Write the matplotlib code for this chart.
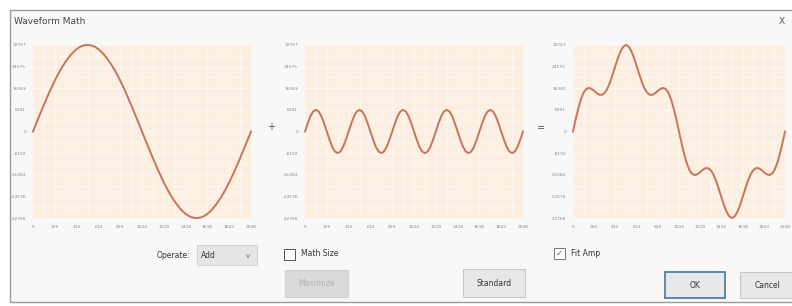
import matplotlib
matplotlib.use("Agg")
import matplotlib.pyplot as plt
from matplotlib.patches import Rectangle
from matplotlib.ticker import AutoMinorLocator

# values (81 samples each)
sample_pos = [i for i in range(81)]

wave_a = [0, 2600, 5100, 7600, 10100, 12500, 14900, 17100, 19300, 21300,
          23200, 24900, 26500, 27900, 29200, 30300, 31200, 31900, 32400, 32700,
          32767, 32700, 32400, 31900, 31200, 30300, 29200, 27900, 26500, 24900,
          23200, 21300, 19300, 17100, 14900, 12500, 10100, 7600, 5100, 2600,
          0, -2600, -5100, -7600, -10100, -12500, -14900, -17100, -19300, -21300,
          -23200, -24900, -26500, -27900, -29200, -30300, -31200, -31900, -32400, -32700,
          -32767, -32700, -32400, -31900, -31200, -30300, -29200, -27900, -26500, -24900,
          -23200, -21300, -19300, -17100, -14900, -12500, -10100, -7600, -5100, -2600,
          0]

wave_b = [0, 3100, 5800, 7600, 8191, 7600, 5800, 3100, 0, -3100, -5800, -7600, -8191, -7600, -5800, -3100,
          0, 3100, 5800, 7600, 8191, 7600, 5800, 3100, 0, -3100, -5800, -7600, -8191, -7600, -5800, -3100,
          0, 3100, 5800, 7600, 8191, 7600, 5800, 3100, 0, -3100, -5800, -7600, -8191, -7600, -5800, -3100,
          0, 3100, 5800, 7600, 8191, 7600, 5800, 3100, 0, -3100, -5800, -7600, -8191, -7600, -5800, -3100,
          0, 3100, 5800, 7600, 8191, 7600, 5800, 3100, 0, -3100, -5800, -7600, -8191, -7600, -5800, -3100,
          0]

wave_sum = [0, 4600, 8700, 12200, 14700, 16100, 16500, 16200, 15400, 14500,
            13900, 13900, 14700, 16300, 18700, 21700, 24900, 28000, 30500, 32200,
            32767, 32200, 30500, 28000, 24900, 21700, 18700, 16300, 14700, 13900,
            13900, 14500, 15400, 16200, 16500, 16100, 14700, 12200, 8700, 4600,
            0, -4600, -8700, -12200, -14700, -16100, -16500, -16200, -15400, -14500,
            -13900, -13900, -14700, -16300, -18700, -21700, -24900, -28000, -30500, -32200,
            -32767, -32200, -30500, -28000, -24900, -21700, -18700, -16300, -14700, -13900,
            -13900, -14500, -15400, -16200, -16500, -16100, -14700, -12200, -8700, -4600,
            0]

y_ticks = [32767, 24575, 16383, 8191, 0, -8192, -16384, -24576, -32768]
y_labels = ["32767", "24575", "16383", "8191", "0", "-8192", "-16384", "-24576", "-32768"]
x_ticks = [0, 8, 16, 24, 32, 40, 48, 56, 64, 72, 80]
x_labels = ["0", "205", "410", "614", "819", "1024", "1229", "1434", "1638", "1843", "2048"]

W, H = 792, 306
fig = plt.figure(figsize=(W / 100, H / 100), dpi=100)
fig.patch.set_facecolor("#ffffff")


def px(x, y):
    return x / W, 1 - y / H


# dialog frame (behind everything)
fig.patches.append(Rectangle(px(10, 302), 800 / W, 292 / H, transform=fig.transFigure,
                             facecolor="#f8f8f9", edgecolor="#9a9a9a", lw=1.0, zorder=-10))
fig.text(*px(14, 22), "Waveform Math", fontsize=6.5, color="#444444", va="center")
fig.text(*px(782, 22), "X", fontsize=6.5, color="#555555", va="center", ha="center")

line_col = "#c9745a"
bg_col = "#fdeee2"

panels = [(33, 218, wave_a), (305, 218, wave_b), (573, 212, wave_sum)]
for left, width, vals in panels:
    x0, y0 = px(left, 218)
    ax = fig.add_axes([x0, y0, width / W, 173 / H])
    ax.set_zorder(1)
    ax.set_facecolor(bg_col)
    ax.plot(sample_pos, vals, color=line_col, lw=1.4, clip_on=False, zorder=3)
    ax.set_xlim(0, 80)
    ax.set_ylim(-32768, 32767)
    ax.set_xticks(x_ticks)
    ax.set_xticklabels(x_labels)
    ax.set_yticks(y_ticks)
    ax.set_yticklabels(y_labels)
    ax.xaxis.set_minor_locator(AutoMinorLocator(2))
    ax.yaxis.set_minor_locator(AutoMinorLocator(2))
    ax.grid(True, which="both", color="#ffffff", lw=0.5, alpha=0.6)
    ax.set_axisbelow(True)
    ax.tick_params(which="both", length=0, labelsize=3.2, labelcolor="#888888", pad=5)
    for s in ax.spines.values():
        s.set_visible(False)

fig.text(*px(271, 127), "+", fontsize=7, color="#555555", ha="center", va="center")
fig.text(*px(541, 128), "=", fontsize=7, color="#555555", ha="center", va="center")


def button(x, y, w, h, label, face="#e8e8e9", edge="#c8c8c8", tcol="#333333", lw=0.8):
    fig.patches.append(Rectangle(px(x, y + h), w / W, h / H, transform=fig.transFigure,
                                 facecolor=face, edgecolor=edge, lw=lw, zorder=2))
    fig.text(*px(x + w / 2, y + h / 2), label, fontsize=5.5, color=tcol,
             ha="center", va="center", zorder=3)


# operate combo
fig.text(*px(190, 256), "Operate:", fontsize=5.5, color="#333333", ha="right", va="center")
fig.patches.append(Rectangle(px(197, 265), 60 / W, 20 / H, transform=fig.transFigure,
                             facecolor="#e6e6e7", edgecolor="#d0d0d0", lw=0.6, zorder=2))
fig.text(*px(201, 255), "Add", fontsize=5.5, color="#333333", va="center")
fig.text(*px(248, 256), "v", fontsize=5, color="#666666", ha="center", va="center")

# checkboxes
fig.patches.append(Rectangle(px(284, 260), 11 / W, 11 / H, transform=fig.transFigure,
                             facecolor="#ffffff", edgecolor="#555555", lw=0.7, zorder=2))
fig.text(*px(301, 254), "Math Size", fontsize=5.5, color="#333333", va="center")
fig.patches.append(Rectangle(px(554, 259), 11 / W, 11 / H, transform=fig.transFigure,
                             facecolor="#ffffff", edgecolor="#777777", lw=0.7, zorder=2))
fig.text(*px(559.5, 253.5), "\u2713", fontsize=6, color="#666666", ha="center", va="center")
fig.text(*px(571, 253), "Fit Amp", fontsize=5.5, color="#333333", va="center")

# buttons
button(285, 270, 63, 27, "Maximize", face="#d9dadc", edge="#d0d0d0", tcol="#b0b0b0")
button(463, 269, 62, 28, "Standard")
button(665, 272, 60, 26, "OK", face="#e6e8ea", edge="#4f7fa6", lw=1.3)
button(740, 272, 55, 26, "Cancel")

fig.savefig("out.png", dpi=100)
